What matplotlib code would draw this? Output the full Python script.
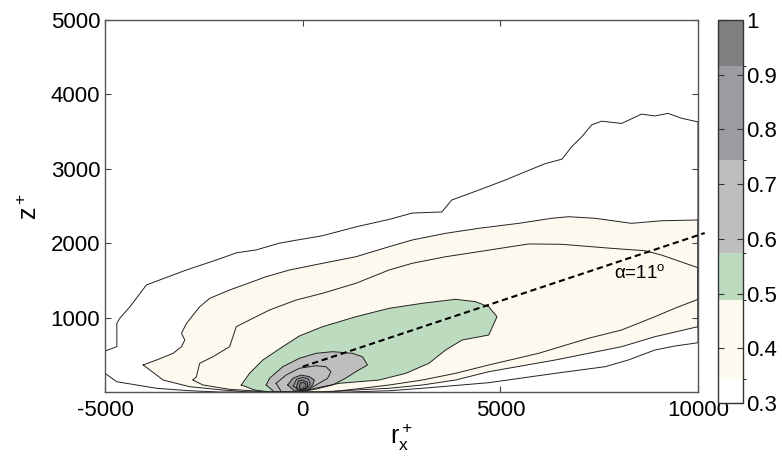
import matplotlib
matplotlib.use('Agg')
import matplotlib.pyplot as plt
from matplotlib.colors import ListedColormap, BoundaryNorm
from matplotlib.colorbar import ColorbarBase

plt.rcParams['font.family'] = ['Liberation Sans', 'DejaVu Sans']
plt.rcParams['mathtext.fontset'] = 'custom'
plt.rcParams['mathtext.rm'] = 'Liberation Sans'
plt.rcParams['mathtext.it'] = 'Liberation Sans'
plt.rcParams['axes.unicode_minus'] = False

# contour outlines: (r_x+, z+) pairs per correlation level
levels = [0.2, 0.3, 0.4, 0.5, 0.6, 0.7, 0.8, 0.85, 0.9, 0.95]

c020 = [(-5000, 550), (-4700, 610), (-4700, 925), (-4620, 995), (-4370, 1145), (-3950, 1440),
        (-3620, 1505), (-2940, 1640), (-2180, 1775), (-1680, 1870), (-1175, 1910), (-590, 2000),
        (-170, 2040), (500, 2100), (1350, 2220), (2190, 2320), (2770, 2405), (3520, 2420),
        (3770, 2580), (4460, 2715), (5130, 2850), (5720, 2980), (6140, 3070), (6560, 3130),
        (6810, 3300), (7060, 3430), (7310, 3590), (7560, 3640), (8070, 3610), (8570, 3735),
        (8910, 3710), (9240, 3745), (9580, 3680), (10000, 3630),
        (10000, 662), (9413, 618), (8909, 564), (8236, 430), (7649, 340), (6388, 251),
        (4707, 125), (3025, 50), (2186, 17), (1177, 0), (-2100, 0), (-2856, 17),
        (-3696, 50), (-4704, 138), (-5000, 251)]

c030 = [(-4034, 363), (-3696, 430), (-3277, 520), (-3066, 609), (-2982, 699), (-3066, 789),
        (-2939, 923), (-2604, 1146), (-2352, 1259), (-1848, 1371), (-1427, 1452), (-923, 1550),
        (-335, 1640), (504, 1730), (1346, 1818), (2186, 1953), (2773, 2043), (3615, 2133),
        (4455, 2200), (5463, 2267), (6302, 2335), (6723, 2356), (7397, 2335), (8319, 2267),
        (9076, 2302), (10000, 2312),
        (10000, 878), (8909, 743), (8067, 609), (6388, 430), (4707, 273), (3867, 161),
        (3025, 94), (2186, 50), (1346, 27), (421, 0), (-1344, 0), (-2017, 27),
        (-2856, 71), (-3529, 161), (-3865, 296)]

c040 = [(-2773, 161), (-2687, 206), (-2647, 296), (-2604, 386), (-2269, 474), (-1848, 609),
        (-1679, 878), (-1344, 968), (-839, 1102), (-166, 1236), (504, 1327), (1346, 1461),
        (2186, 1640), (2773, 1730), (3615, 1818), (4455, 1886), (5715, 1990), (6555, 1985),
        (7815, 1931), (8657, 1899), (9076, 1841), (10000, 1670),
        (10000, 1246), (9413, 1125), (8909, 1012), (8067, 833), (7228, 722), (5967, 520),
        (4707, 363), (3867, 251), (3025, 161), (2186, 94), (1346, 40), (673, 0),
        (-966, 0), (-1175, 13), (-1848, 36), (-2521, 94)]

c050 = [(-1553, 94), (-1344, 251), (-1008, 430), (-504, 609), (-83, 753), (504, 878),
        (1346, 1012), (2186, 1125), (3025, 1192), (3867, 1246), (4371, 1214), (4707, 1146),
        (4916, 1012), (4707, 766), (4034, 699), (3615, 564), (3194, 386), (2607, 251),
        (1934, 161), (925, 117), (504, 71), (-83, 0), (-839, 0), (-1218, 27)]

c060 = [(-923, 94), (-839, 184), (-504, 340), (-83, 453), (338, 520), (756, 542), (1261, 520),
        (1513, 474), (1639, 363), (1346, 273), (1094, 188), (756, 94), (338, 40), (-83, 0),
        (-713, 0)]

c070 = [(-671, 117), (-418, 228), (-83, 319), (338, 353), (590, 340), (716, 273), (630, 184),
        (338, 94), (43, 0), (-537, 0)]

c080 = [(-378, 94), (-252, 184), (-40, 228), (169, 206), (295, 161), (252, 94), (118, 27),
        (-209, 13)]

c085 = [(-234, 81), (-159, 168), (-8, 195), (144, 175), (194, 108), (93, 40), (-134, 34)]

c090 = [(-159, 67), (-108, 148), (5, 161), (118, 134), (131, 74), (18, 27), (-108, 27)]

c095 = [(-83, 67), (-58, 121), (18, 128), (81, 108), (68, 54), (-33, 34)]

outlines = [c020, c030, c040, c050, c060, c070, c080, c085, c090, c095]

# colour bar bands
cb_bounds = [0.3, 0.344, 0.488, 0.575, 0.744, 0.916, 1.0]
cb_colors = ['#ffffff', '#fef9ee', '#bddbbf', '#bebebe', '#9b9ba1', '#7f7f7f']
fill_colors = [None, '#fef9ee', '#fef9ee', '#bddbbf', '#bebebe', '#bebebe',
               '#9b9ba1', '#9b9ba1', '#7f7f7f', '#7f7f7f']

# dashed line at alpha = 11 deg
dash_x = [0, 10170]
dash_z = [340, 2137]

fig = plt.figure(figsize=(7.82, 4.67), dpi=100)
ax = fig.add_axes([105 / 782, 1 - 392 / 467, 593 / 782, 372 / 467])

for lev, pts, col in zip(levels, outlines, fill_colors):
    xs = [p[0] for p in pts] + [pts[0][0]]
    zs = [p[1] for p in pts] + [pts[0][1]]
    if col is not None:
        ax.fill(xs, zs, color=col, lw=0)
    ax.plot(xs, zs, color='#222222', lw=0.7)

ax.plot(dash_x, dash_z, color='black', lw=1.5, ls=(0, (3, 1.8)), clip_on=False)
ax.text(8520, 1600, r'$\alpha$=11$^\mathregular{o}$', fontsize=13.5, ha='center', va='center')

ax.set_xlim(-5000, 10000)
ax.set_ylim(0, 5000)
ax.set_xticks([-5000, 0, 5000, 10000])
ax.set_yticks([1000, 2000, 3000, 4000, 5000])
ax.tick_params(direction='in', length=4, labelsize=16, top=True, right=True,
               color='#444444', width=0.8)
ax.tick_params(axis='x', pad=6)
for s in ax.spines.values():
    s.set_color('#555555')
    s.set_linewidth(1.0)
ax.set_xlabel(r'$\mathregular{r_x^+}$', fontsize=18, labelpad=0)
ax.set_ylabel(r'$\mathregular{z^+}$', fontsize=18, labelpad=6)

# colorbar
cax = fig.add_axes([718 / 782, 1 - 403 / 467, 25 / 782, 383 / 467])
cmap = ListedColormap(cb_colors)
norm = BoundaryNorm(cb_bounds, cmap.N)
cb = ColorbarBase(cax, cmap=cmap, norm=norm, boundaries=cb_bounds, spacing='proportional')
cb.set_ticks([0.3, 0.4, 0.5, 0.6, 0.7, 0.8, 0.9, 1.0])
cb.set_ticklabels(['0.3', '0.4', '0.5', '0.6', '0.7', '0.8', '0.9', '1'])
cb.outline.set_edgecolor('#333333')
cb.outline.set_linewidth(1.0)
cax.tick_params(direction='in', length=4, labelsize=16, left=True, right=True,
                color='#333333', width=0.8, pad=2)

fig.savefig('out.png', dpi=100)
